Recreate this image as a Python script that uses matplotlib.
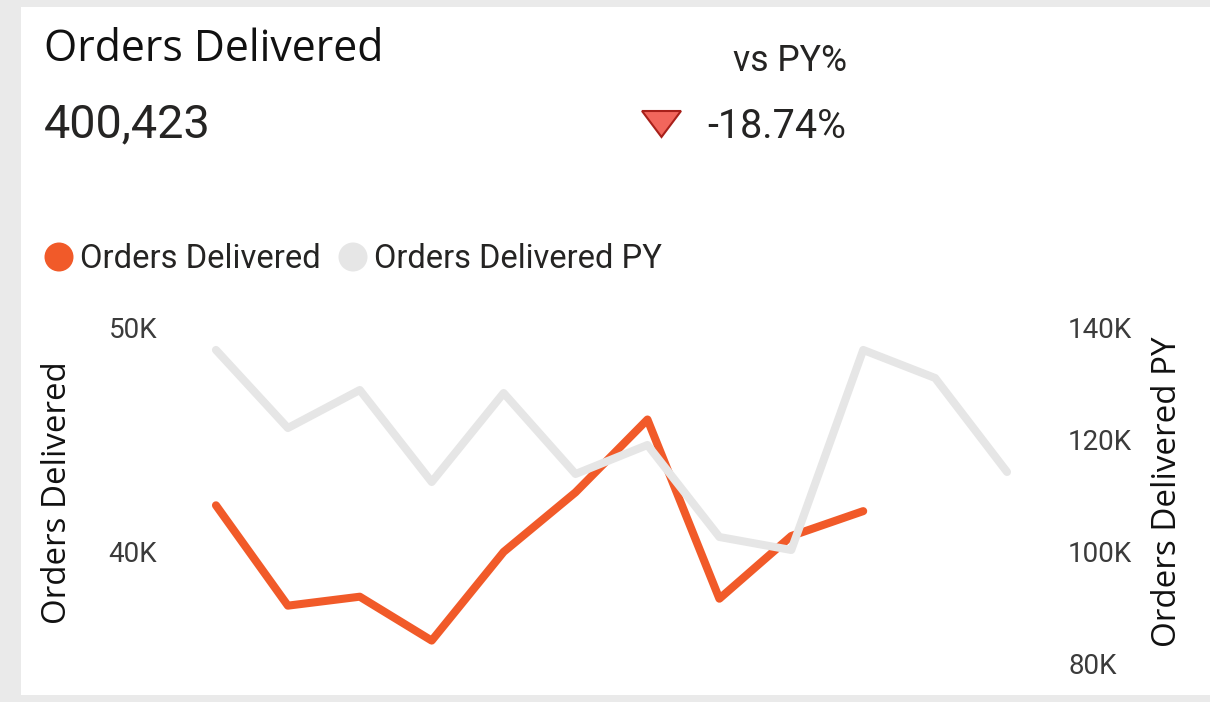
import numpy as np
import matplotlib
matplotlib.use("Agg")
import matplotlib.pyplot as plt
from matplotlib.patches import Rectangle, Polygon, Ellipse

# ---------------- data ----------------
months = ["Jan", "Feb", "Mar", "Apr", "May", "Jun", "Jul", "Aug", "Sep", "Oct", "Nov", "Dec"]
orders_delivered = [42040, 37560, 37960, 36000, 39960, 42620, 45870, 37870, 40670, 41780]
orders_delivered_py = [135900, 121960, 128750, 112320, 128210, 113750, 118930, 102500,
                       100180, 135900, 130890, 114110]
left_ticks = [40000, 50000]
left_tick_labels = ["40K", "50K"]
right_ticks = [80000, 100000, 120000, 140000]
right_tick_labels = ["80K", "100K", "120K", "140K"]
kpi_title = "Orders Delivered"
kpi_value = "400,423"
kpi_change_label = "vs PY%"
kpi_change = "-18.74%"
series_names = ["Orders Delivered", "Orders Delivered PY"]

# ---------------- style ----------------
ORANGE = "#F15A29"
GREY = "#E6E6E6"
TXT = "#252423"
AX_TXT = "#3B3B3B"
TITLE_FONT = ["Open Sans", "DejaVu Sans"]
NUM_FONT = ["Roboto", "DejaVu Sans"]

W, H = 1210, 702
fig = plt.figure(figsize=(W / 100, H / 100), dpi=100)
fig.patch.set_facecolor("#EAEAEA")


def fx(px):
    return px / W


def fy(py):
    return 1 - py / H


# white card
fig.add_artist(Rectangle((fx(21), fy(695)), (W - 21) / W, (695 - 7) / H,
                         transform=fig.transFigure, facecolor="white",
                         edgecolor="none", zorder=0))

renderer = fig.canvas.get_renderer()


def fit(s, x0, x1, yb, family, color, ref=20):
    t = fig.text(fx(x0), fy(yb), s, fontsize=ref, family=family, color=color,
                 ha="left", va="baseline", zorder=3)
    w = t.get_window_extent(renderer).width
    t.set_fontsize(ref * (x1 - x0) / w)
    return t


def fit_v(s, xc, y0, y1, family, color, ref=20):
    t = fig.text(fx(xc), fy((y0 + y1) / 2), s, fontsize=ref, family=family,
                 color=color, rotation=90, ha="center", va="center", zorder=3)
    h = t.get_window_extent(renderer).height
    t.set_fontsize(ref * (y1 - y0) / h)
    return t


# KPI header
fit(kpi_title, 44, 383, 61, TITLE_FONT, "#111111")
fit(kpi_value, 44, 211, 137, NUM_FONT, TXT)
fit(kpi_change_label, 733, 847, 71, NUM_FONT, TXT)
fit(kpi_change, 707, 846, 138, NUM_FONT, TXT)
tri = [(642, 111), (681, 111), (661.5, 137)]
fig.add_artist(Polygon([(fx(a), fy(b)) for a, b in tri], closed=True,
                       transform=fig.transFigure, facecolor="#F2665C",
                       edgecolor="#A8201A", lw=1.5, zorder=3))

# legend (manual)
for cx, col in [(59, ORANGE), (353, GREY)]:
    fig.add_artist(Ellipse((fx(cx), fy(257)), 29 / W, 29 / H,
                           transform=fig.transFigure, facecolor=col,
                           edgecolor="none", zorder=3))
fit(series_names[0], 80, 320, 268, NUM_FONT, TXT)
fit(series_names[1], 374, 661, 268, NUM_FONT, TXT)

# ---------------- chart ----------------
ax = fig.add_axes([fx(180), fy(663), (1043 - 180) / W, (663 - 327) / H])
ax.set_facecolor("none")
ax2 = ax.twinx()

x = np.arange(len(months))
ax.plot(x[:len(orders_delivered)], orders_delivered, color=ORANGE, lw=5.8,
        solid_capstyle="round", solid_joinstyle="round", label=series_names[0])
ax2.plot(x, orders_delivered_py, color=GREY, lw=5.8,
         solid_capstyle="round", solid_joinstyle="round", label=series_names[1])

ax.set_xlim(-0.5, len(months) - 0.5)
ax.set_ylim(35000, 50000)
ax2.set_ylim(80000, 140000)
ax.set_xticks([])

ax.set_yticks(left_ticks)
ax.set_yticklabels(left_tick_labels)
ax2.set_yticks(right_ticks)
ax2.set_yticklabels(right_tick_labels)

for a in (ax, ax2):
    for sp in a.spines.values():
        sp.set_visible(False)
    a.tick_params(axis="y", length=0, labelsize=20, labelcolor=AX_TXT)
    for lab in a.get_yticklabels():
        lab.set_family(NUM_FONT)
ax.tick_params(axis="y", pad=16.5)
ax2.tick_params(axis="y", pad=18)

# axis titles
fit_v(series_names[0], 57, 362, 624, TITLE_FONT, "#111111")
fit_v(series_names[1], 1167, 337, 646, TITLE_FONT, "#111111")

fig.savefig("out.png", dpi=100, facecolor=fig.get_facecolor())
